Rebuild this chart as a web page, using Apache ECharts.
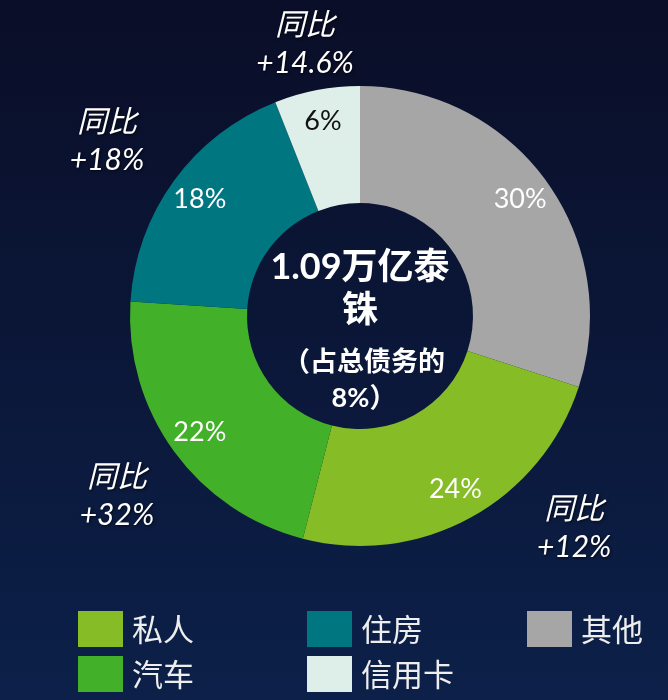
<!DOCTYPE html>
<html>
<head>
<meta charset="utf-8">
<script src="https://cdn.jsdelivr.net/npm/echarts@6/dist/echarts.min.js"></script>
<style>
  html, body { margin: 0; padding: 0; }
  #chart { width: 668px; height: 700px; }
</style>
</head>
<body>
<div id="chart"></div>
<script>
// 切片顺序：从12点钟方向顺时针
const names = ['其他', '私人', '汽车', '住房', '信用卡']
const shares = [30, 24, 22, 18, 6]
const yoy = ['', '+12%', '+32%', '+18%', '+14.6%']
const colors = ['#a6a6a6', '#86bc25', '#43b02a', '#007680', '#ddefe8']
const labelColors = ['#ffffff', '#ffffff', '#ffffff', '#ffffff', '#111111']
// 图例分三列
const legendCols = [['私人', '汽车'], ['住房', '信用卡'], ['其他']]

const numFont = "Lato, 'Noto Sans CJK SC', sans-serif"
const cjkFont = "'Noto Sans CJK SC', sans-serif"

let pieData = names.map((n, i) => ({
  name: n,
  value: shares[i],
  itemStyle: { color: colors[i] }
}))

// 外部注释的微调
const yoyShift = [[0, 0], [73, -44], [-6, 8], [-16, -2], [0, 16]]

let myCharts = echarts.init(document.getElementById('chart'))
myCharts.setOption({
  backgroundColor: {
    type: 'linear', x: 0, y: 0, x2: 0, y2: 1,
    colorStops: [
      { offset: 0, color: '#0a0e28' },
      { offset: 1, color: '#0c2049' }
    ]
  },
  legend: legendCols.map((col, k) => ({
    data: col,
    orient: 'vertical',
    left: [78, 307, 527][k],
    top: 611,
    height: 120,
    padding: 0,
    itemWidth: 45,
    itemHeight: 36,
    itemGap: 9,
    icon: 'rect',
    selectedMode: false,
    textStyle: {
      color: '#eeeeee',
      fontSize: 31,
      fontFamily: cjkFont,
      padding: [0, 0, 0, 4]
    }
  })),
  graphic: [
    {
      type: 'text',
      x: 360,
      y: 246,
      style: {
        text: '1.09万亿泰\n铢',
        align: 'center',
        verticalAlign: 'top',
        fill: '#ffffff',
        font: 'bold 36px ' + numFont,
        lineHeight: 43
      }
    },
    {
      type: 'text',
      x: 364,
      y: 344,
      style: {
        text: '（占总债务的\n8%）',
        align: 'center',
        verticalAlign: 'top',
        fill: '#ffffff',
        font: 'bold 27px ' + numFont,
        lineHeight: 36
      }
    }
  ],
  series: [
    {
      type: 'pie',
      name: 'main',
      center: [360, 316],
      radius: [113, 230],
      startAngle: 90,
      clockwise: true,
      silent: true,
      label: { show: false },
      labelLine: { show: false },
      data: pieData
    },
    {
      // 百分比标签
      type: 'pie',
      name: 'pct',
      center: [360, 316],
      radius: [113, 277],
      startAngle: 90,
      silent: true,
      itemStyle: { color: 'rgba(0,0,0,0)' },
      labelLine: { show: false },
      label: {
        show: true,
        position: 'inside',
        formatter: function (p) {
          return '{c' + p.dataIndex + '|' + p.value + '%}'
        },
        rich: {
          c0: { color: labelColors[0], fontSize: 27, fontFamily: numFont },
          c1: { color: labelColors[1], fontSize: 27, fontFamily: numFont },
          c2: { color: labelColors[2], fontSize: 27, fontFamily: numFont },
          c3: { color: labelColors[3], fontSize: 27, fontFamily: numFont },
          c4: { color: labelColors[4], fontSize: 27, fontFamily: numFont }
        }
      },
      data: names.map((n, i) => ({ name: n, value: shares[i] }))
    },
    {
      // 同比注释
      type: 'pie',
      name: 'yoy',
      center: [360, 316],
      radius: [280, 300],
      startAngle: 90,
      silent: true,
      itemStyle: { color: 'rgba(0,0,0,0)' },
      labelLine: { show: false },
      label: {
        show: true,
        position: 'inside',
        color: '#ffffff',
        fontSize: 30,
        fontStyle: 'italic',
        fontWeight: 'normal',
        fontFamily: numFont,
        lineHeight: 38,
        textShadowColor: 'rgba(0,0,0,0.7)',
        textShadowBlur: 3,
        textShadowOffsetX: 1,
        textShadowOffsetY: 1,
        formatter: function (p) {
          return yoy[p.dataIndex] ? '同比\n' + yoy[p.dataIndex] : ''
        }
      },
      labelLayout: function (params) {
        let s = yoyShift[params.dataIndex]
        return { dx: s[0], dy: s[1] }
      },
      data: names.map((n, i) => ({ name: n, value: shares[i] }))
    }
  ]
})
</script>
</body>
</html>
